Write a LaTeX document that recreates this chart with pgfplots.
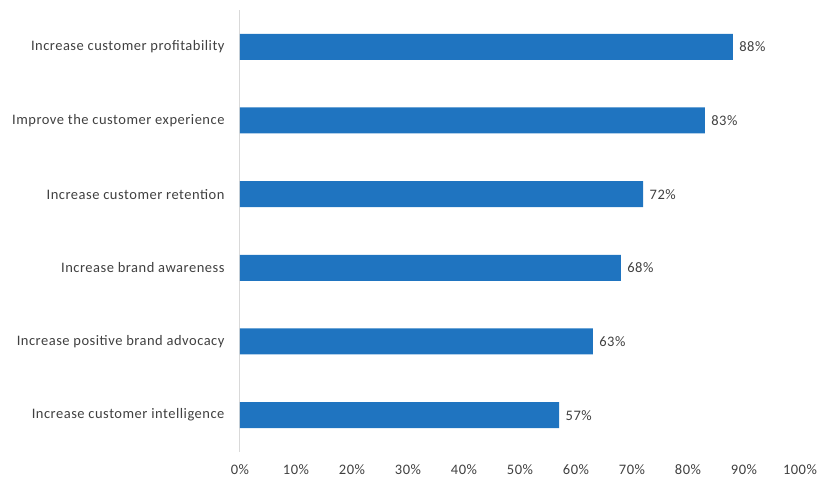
\documentclass[border=0pt]{standalone}
\usepackage{pgfplots}
\pgfplotsset{compat=1.18}
\usepackage{fontspec}
\setmainfont{Carlito}[LetterSpace=3.5]
\definecolor{barblue}{RGB}{31,116,192}
\definecolor{txt}{RGB}{64,64,64}
\definecolor{axgray}{RGB}{217,217,217}
\begin{document}
\begin{tikzpicture}
\begin{axis}[
  scale only axis,
  width=560pt, height=442pt,
  xbar, bar width=26pt,
  xmin=0, xmax=100, ymin=-0.5, ymax=5.5,
  xtick={0,10,...,100},
  xticklabel={\pgfmathprintnumber{\tick}\%},
  ytick={0,1,2,3,4,5},
  yticklabels={Increase customer intelligence,Increase positive brand advocacy,Increase brand awareness,Increase customer retention,Improve the customer experience,Increase customer profitability},
  major tick length=0pt,
  axis lines=left,
  axis line style={-},
  x axis line style={draw=none},
  y axis line style={draw=axgray, line width=1pt},
  /pgf/number format/assume math mode=true,
  tick label style={font=\fontsize{14.5}{16}\selectfont, text=txt},
  yticklabel style={xshift=-12pt},
  xticklabel style={yshift=-9pt},
  nodes near coords={\pgfmathprintnumber{\pgfplotspointmeta}\%},
  nodes near coords style={font=\fontsize{14.5}{16}\selectfont, text=txt, anchor=west, xshift=3pt},
  point meta=explicit,
]
\addplot[fill=barblue, draw=none] coordinates {
(57,0) [57]
(63,1) [63]
(68,2) [68]
(72,3) [72]
(83,4) [83]
(88,5) [88]
};
\end{axis}
\pgfresetboundingbox
\path (-240pt,-26pt) rectangle (581pt,452pt);
\end{tikzpicture}
\end{document}
